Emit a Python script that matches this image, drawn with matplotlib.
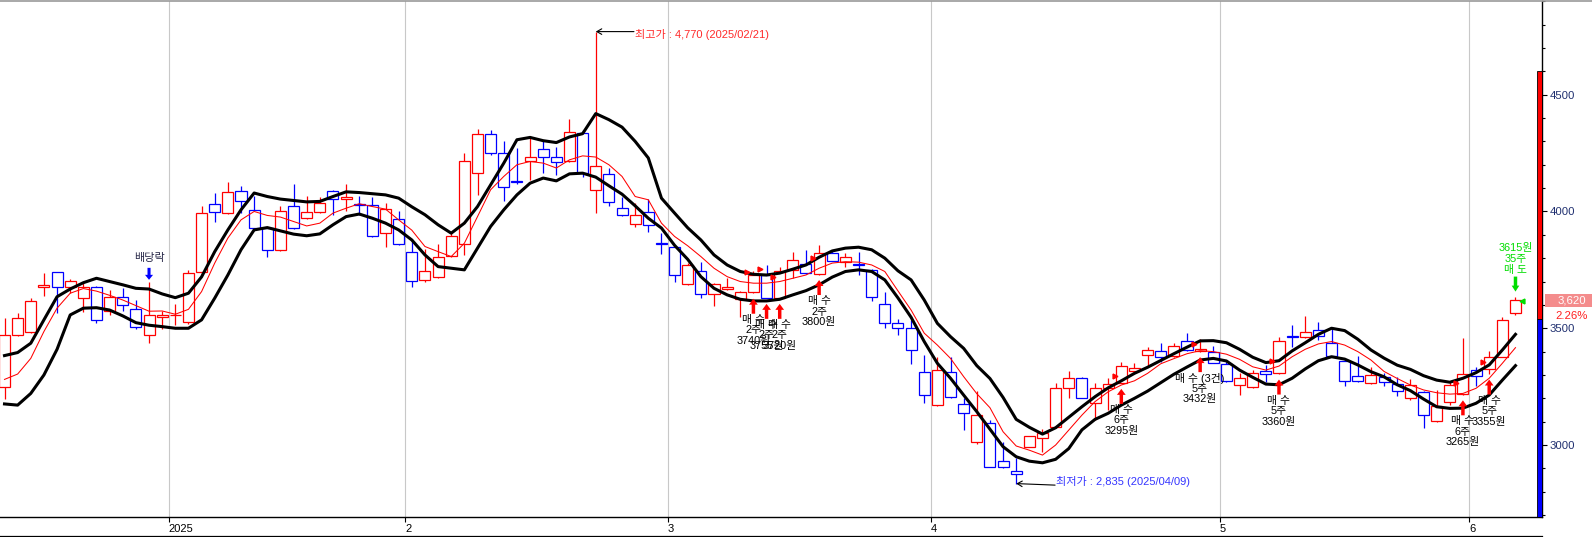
import matplotlib
matplotlib.use('Agg')
import matplotlib.pyplot as plt
import matplotlib.transforms as mtransforms
from matplotlib.patches import Rectangle
from matplotlib.lines import Line2D
from matplotlib.ticker import MultipleLocator, FixedLocator
import numpy as np

plt.rcParams['font.family'] = ['Liberation Sans', 'Noto Sans CJK KR', 'DejaVu Sans']

# daily candles, mid Dec 2024 .. 9 Jun 2025 (trading days only)
opens = [3250, 3470, 3483, 3676, 3740, 3676, 3629, 3676, 3574, 3633,
         3581, 3470, 3547, 3555, 3526, 3740, 4033, 3995, 4087, 4006,
         3929, 3836, 4023, 3971, 3997, 4087, 4053, 4030, 4027, 3907,
         3967, 3826, 3706, 3719, 3810, 3861, 4164, 4333, 4250, 4132,
         4218, 4267, 4233, 4217, 4336, 4094, 4161, 4014, 3946, 3997,
         3863, 3847, 3690, 3743, 3646, 3667, 3624, 3657, 3728, 3631,
         3750, 3776, 3733, 3821, 3785, 3773, 3750, 3604, 3521, 3500,
         3314, 3171, 3314, 3176, 3011, 3093, 2931, 2890, 2993, 3029,
         3078, 3243, 3286, 3179, 3243, 3267, 3317, 3386, 3403, 3381,
         3446, 3403, 3400, 3347, 3257, 3247, 3317, 3307, 3466, 3464,
         3493, 3436, 3360, 3296, 3264, 3290, 3261, 3200, 3228, 3104,
         3185, 3218, 3321, 3327, 3378, 3564]
highs = [3543, 3564, 3629, 3738, 3742, 3711, 3693, 3681, 3664, 3671,
         3621, 3700, 3574, 3604, 3750, 4024, 4077, 4124, 4107, 4067,
         3933, 4025, 4116, 4067, 4060, 4090, 4116, 4067, 4064, 4038,
         4004, 3883, 3840, 3861, 3914, 4250, 4353, 4350, 4303, 4271,
         4321, 4300, 4278, 4397, 4350, 4770, 4186, 4060, 4036, 4053,
         3907, 3850, 3779, 3785, 3692, 3714, 3660, 3743, 3771, 3761,
         3828, 3836, 3857, 3836, 3821, 3828, 3755, 3657, 3539, 3536,
         3386, 3378, 3378, 3200, 3231, 3107, 3014, 2943, 3040, 3067,
         3264, 3318, 3290, 3264, 3286, 3357, 3350, 3421, 3436, 3436,
         3481, 3453, 3424, 3357, 3307, 3321, 3343, 3464, 3514, 3553,
         3526, 3504, 3363, 3381, 3336, 3307, 3293, 3281, 3232, 3236,
         3271, 3457, 3333, 3403, 3550, 3633]
lows = [3196, 3465, 3480, 3638, 3564, 3653, 3571, 3521, 3557, 3574,
        3497, 3438, 3496, 3514, 3520, 3730, 3953, 3990, 3993, 3925,
        3803, 3830, 3925, 3968, 3995, 3986, 4000, 3986, 3890, 3847,
        3855, 3676, 3700, 3715, 3805, 3814, 4071, 4240, 4043, 4118,
        4133, 4164, 4154, 4210, 4147, 3995, 4024, 3980, 3935, 3911,
        3818, 3700, 3685, 3631, 3596, 3664, 3547, 3650, 3628, 3628,
        3714, 3733, 3730, 3787, 3764, 3728, 3618, 3500, 3471, 3346,
        3181, 3168, 3200, 3064, 3005, 2905, 2903, 2835, 2990, 2971,
        3075, 3200, 3200, 3107, 3150, 3264, 3312, 3336, 3357, 3378,
        3404, 3400, 3350, 3271, 3214, 3245, 3271, 3304, 3421, 3460,
        3450, 3378, 3254, 3272, 3262, 3253, 3211, 3193, 3071, 3100,
        3171, 3215, 3254, 3304, 3375, 3557]
closes = [3470, 3543, 3617, 3686, 3676, 3703, 3676, 3536, 3633, 3599,
          3507, 3556, 3556, 3558, 3736, 3993, 3997, 4083, 4044, 3929,
          3836, 4001, 3929, 3997, 4036, 4053, 4061, 4026, 3894, 4010,
          3860, 3703, 3744, 3804, 3896, 4217, 4333, 4250, 4104, 4128,
          4233, 4233, 4210, 4341, 4164, 4194, 4040, 3984, 3984, 3943,
          3859, 3728, 3770, 3646, 3689, 3678, 3657, 3728, 3631, 3743,
          3793, 3736, 3821, 3790, 3804, 3769, 3635, 3521, 3500, 3407,
          3214, 3321, 3204, 3136, 3128, 2907, 2907, 2874, 3038, 3050,
          3243, 3286, 3203, 3243, 3260, 3338, 3331, 3407, 3376, 3424,
          3407, 3410, 3353, 3275, 3286, 3310, 3304, 3446, 3462, 3483,
          3467, 3381, 3274, 3275, 3300, 3269, 3231, 3257, 3128, 3167,
          3257, 3303, 3296, 3376, 3536, 3620]

# envelope (upper / lower, black) and centre line (red)
env_upper = [3383, 3396, 3436, 3536, 3635, 3668, 3695, 3714, 3700, 3686,
             3671, 3668, 3647, 3631, 3650, 3720, 3828, 3921, 4007, 4079,
             4064, 4053, 4047, 4041, 4043, 4064, 4084, 4081, 4076, 4071,
             4057, 4020, 3986, 3943, 3907, 3950, 4021, 4114, 4207, 4307,
             4317, 4303, 4295, 4319, 4333, 4419, 4393, 4361, 4300, 4229,
             4057, 3993, 3930, 3878, 3814, 3771, 3743, 3731, 3728, 3736,
             3753, 3771, 3804, 3831, 3843, 3847, 3836, 3800, 3746, 3707,
             3621, 3521, 3464, 3414, 3340, 3285, 3204, 3110, 3076, 3047,
             3074, 3119, 3164, 3207, 3245, 3275, 3307, 3333, 3362, 3391,
             3419, 3446, 3447, 3438, 3410, 3376, 3353, 3361, 3403, 3438,
             3474, 3500, 3490, 3453, 3407, 3372, 3342, 3324, 3297, 3278,
             3269, 3286, 3310, 3343, 3407, 3474]
env_lower = [3176, 3171, 3221, 3300, 3410, 3557, 3586, 3588, 3578, 3553,
             3524, 3513, 3507, 3500, 3500, 3536, 3629, 3728, 3836, 3921,
             3931, 3917, 3903, 3896, 3904, 3943, 3978, 3989, 3971, 3950,
             3921, 3878, 3814, 3764, 3757, 3750, 3843, 3936, 4007, 4071,
             4121, 4143, 4131, 4161, 4164, 4147, 4110, 4074, 4024, 3971,
             3929, 3855, 3795, 3721, 3671, 3643, 3624, 3617, 3617, 3624,
             3643, 3661, 3686, 3719, 3743, 3750, 3743, 3707, 3630, 3547,
             3443, 3350, 3286, 3214, 3143, 3068, 2993, 2950, 2931, 2924,
             2939, 2985, 3065, 3110, 3136, 3171, 3200, 3231, 3267, 3303,
             3334, 3364, 3371, 3360, 3321, 3290, 3261, 3258, 3286, 3326,
             3361, 3378, 3368, 3343, 3314, 3292, 3258, 3233, 3197, 3164,
             3157, 3158, 3179, 3214, 3278, 3340]
mid_line = [3281, 3304, 3371, 3486, 3586, 3650, 3670, 3659, 3641, 3621,
            3597, 3573, 3574, 3560, 3581, 3657, 3779, 3886, 3964, 4000,
            3983, 3976, 3957, 3938, 3950, 3993, 4014, 4033, 4021, 4010,
            3964, 3920, 3850, 3828, 3807, 3864, 3978, 4093, 4150, 4200,
            4214, 4207, 4186, 4221, 4238, 4233, 4200, 4150, 4064, 4050,
            3950, 3893, 3853, 3807, 3757, 3721, 3700, 3693, 3693, 3700,
            3714, 3728, 3757, 3779, 3785, 3783, 3771, 3743, 3660, 3578,
            3479, 3428, 3371, 3293, 3220, 3160, 3057, 2996, 2978, 2957,
            3000, 3064, 3128, 3186, 3228, 3257, 3275, 3307, 3348, 3370,
            3391, 3404, 3400, 3389, 3367, 3335, 3321, 3338, 3378, 3410,
            3433, 3443, 3428, 3400, 3364, 3315, 3285, 3257, 3236, 3224,
            3218, 3221, 3243, 3286, 3350, 3417]

# first trading day of each month (candle index) and its label
month_start = [13, 31, 51, 71, 93, 112]
month_labels = ['2025', '2', '3', '4', '5', '6']

# trades
buy_idx = [57, 58, 59, 62, 85, 91, 97, 111, 113]
buy_price = [3740, 3755, 3720, 3800, 3295, 3432, 3360, 3265, 3355]
buy_qty = [2, 2, 2, 2, 6, 5, 5, 6, 5]
buy_count = [1, 1, 1, 1, 1, 3, 1, 1, 1]
sell_idx = [115]
sell_price = [3615]
sell_qty = [35]

ex_div_idx = 11
high_date = '2025/02/21'
low_date = '2025/04/09'
prev_close = 3540
price_limits = (2478, 4602)

RED = '#ff0000'
BLUE = '#0000ff'
GREEN = '#00dd00'

W, H = 1592, 537
fig = plt.figure(figsize=(W / 100, H / 100), dpi=100)
ax = fig.add_axes([0, 20 / H, 1541.5 / W, 516 / H])
ymin, ymax = 2692, 4901
ax.set_xlim(-0.3425, 116.98)
ax.set_ylim(ymin, ymax)
won_px = (ymax - ymin) / 516.0   # won per pixel
PT = 0.72                        # points per pixel

x = np.arange(len(opens))

# month grid
for m in month_start:
    ax.axvline(m - 0.5, color='#c8c8c8', lw=0.8, zorder=0)

# candles (hollow bodies)
for i in x:
    o, h, l, c = opens[i], highs[i], lows[i], closes[i]
    col = RED if c >= o else BLUE
    ax.vlines(i, l, h, color=col, lw=0.9, zorder=2)
    ax.add_patch(Rectangle((i - 0.42, min(o, c)), 0.84, max(abs(c - o), 2),
                           facecolor='white', edgecolor=col, lw=0.9, zorder=3))

ax.plot(x, env_upper, color='black', lw=2.2, zorder=4)
ax.plot(x, env_lower, color='black', lw=2.2, zorder=4)
ax.plot(x, mid_line, color=RED, lw=0.75, zorder=4)


def arrow(i, tip, length_px, color, up=True, hw=0.63, hl=0.43, tw=0.25):
    off = -length_px * PT if up else length_px * PT
    ax.annotate('', xy=(i, tip), xytext=(0, off), textcoords='offset points',
                arrowprops=dict(arrowstyle=f'simple,head_length={hl},head_width={hw},tail_width={tw}',
                                mutation_scale=10, fc=color, ec='none', shrinkA=0, shrinkB=0),
                zorder=6)


def label(i, y, dy_px, s, color='black', size=7.8):
    ax.annotate(s, xy=(i, y), xytext=(0, dy_px * PT), textcoords='offset points',
                ha='center', va='center', fontsize=size, color=color, zorder=7)


# buys
for i, p, q, n in zip(buy_idx, buy_price, buy_qty, buy_count):
    tip = lows[i] - 5.5 * won_px
    arrow(i, tip, 15, RED, up=True)
    head = '매 수' if n == 1 else f'매 수 ({n}건)'
    for k, s in enumerate([head, f'{q}주', f'{p}원']):
        label(i, tip, -(21 + 10.5 * k), s)
    ax.plot(i - 0.5, p, marker='>', ms=3.5, color=RED, mec=RED, zorder=6)

# sells
for i, p, q in zip(sell_idx, sell_price, sell_qty):
    tip = highs[i] + 5.6 * won_px
    arrow(i, tip, 15, GREEN, up=False, hw=0.55)
    for k, s in enumerate([f'{p}원', f'{q}주', '매 도']):
        label(i, tip, 43.4 - 10.8 * k, s, color=GREEN)
    ax.plot(i + 0.5, p, marker='<', ms=3.5, color=GREEN, mec=GREEN, zorder=6)

# ex-dividend marker
tip = highs[ex_div_idx] + 1.7 * won_px
arrow(ex_div_idx, tip, 12, BLUE, up=False, hw=0.58, hl=0.36, tw=0.22)
label(ex_div_idx, tip, 22, '배당락', color='#2a2a4a', size=8)

# highest / lowest price notes
hi = int(np.argmax(highs))
lo = int(np.argmin(lows))
ax.annotate('', xy=(hi, highs[hi]), xytext=(27.5, 0), textcoords='offset points',
            arrowprops=dict(arrowstyle='->,head_length=0.35,head_width=0.2', color='black',
                            lw=0.8, shrinkA=0, shrinkB=0), zorder=6)
ax.annotate(f'최고가 : {highs[hi]:,} ({high_date})', xy=(hi, highs[hi]), xytext=(28.5, -2.4),
            textcoords='offset points', ha='left', va='center', fontsize=8, color='#ff2a2a')
ax.annotate('', xy=(lo, lows[lo]), xytext=(28, -1.1), textcoords='offset points',
            arrowprops=dict(arrowstyle='->,head_length=0.35,head_width=0.2', color='black',
                            lw=0.8, shrinkA=0, shrinkB=0), zorder=6)
ax.annotate(f'최저가 : {lows[lo]:,} ({low_date})', xy=(lo, lows[lo]), xytext=(28.5, 1.2),
            textcoords='offset points', ha='left', va='center', fontsize=8, color='#3535ff')

# axes styling
for side in ('left', 'top'):
    ax.spines[side].set_visible(False)
ax.spines['right'].set_linewidth(1.0)
ax.spines['bottom'].set_linewidth(1.0)

ax.set_xticks([m - 0.5 for m in month_start])
ax.set_xticklabels(month_labels)
for t in ax.get_xticklabels():
    t.set_ha('left')
ax.tick_params(axis='x', direction='out', length=3.4, width=0.8, pad=2.0,
               labelsize=8, colors='black')

ax.yaxis.tick_right()
ax.yaxis.set_major_locator(FixedLocator([3000, 3500, 4000, 4500]))
ax.yaxis.set_minor_locator(MultipleLocator(100))
ax.tick_params(axis='y', which='major', direction='out', length=3.6, width=0.8, pad=2.5,
               labelsize=8.2, labelcolor='#203070')
ax.tick_params(axis='y', which='minor', direction='out', length=2.2, width=0.8)

# price limit bar at right edge
ytr = ax.get_yaxis_transform()
bw = 4.5 / 1541.5
ax.add_patch(Rectangle((1 - bw, prev_close), bw, price_limits[1] - prev_close, transform=ytr,
                       facecolor=RED, edgecolor='black', lw=0.6, zorder=8))
ax.add_patch(Rectangle((1 - bw, price_limits[0]), bw, prev_close - price_limits[0], transform=ytr,
                       facecolor=BLUE, edgecolor='black', lw=0.6, zorder=8))

# last price box
last = closes[-1]
chg = (last - prev_close) / prev_close * 100
btr = mtransforms.blended_transform_factory(fig.transFigure, ax.transData)
bh = 13.3 * won_px
fig.add_artist(Rectangle((1545 / W, last - bh / 2), 47 / W, bh, transform=btr,
                         facecolor='#f48c8c', edgecolor='none'))
fig.text(1572 / W, last, f'{last:,}', transform=btr, ha='center', va='center',
         fontsize=8.2, color='white')
fig.text(1572 / W, last - 15.4 * won_px, f'{chg:.2f}%', transform=btr, ha='center',
         va='center', fontsize=8.2, color='#ff2020')

# frame lines
fig.add_artist(Line2D([0, 1], [1 - 0.7 / H] * 2, transform=fig.transFigure, color='#9a9a9a', lw=1.2))
fig.add_artist(Line2D([0, 1541.5 / W], [1.0 / H] * 2, transform=fig.transFigure, color='black', lw=0.9))

fig.savefig('out.png', dpi=100)
